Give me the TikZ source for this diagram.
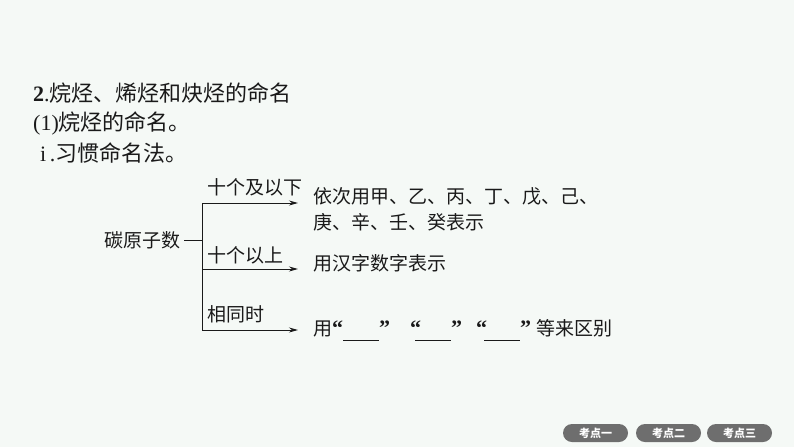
\documentclass[tikz,border=0pt]{standalone}
\usepackage{fontspec}
\setmainfont{Liberation Serif}
\newfontfamily\cjk{Noto Sans CJK SC}
\usetikzlibrary{arrows.meta,positioning}
\definecolor{pagebg}{HTML}{F5F9F6}
\definecolor{tabgray}{HTML}{6E6E6E}
\definecolor{ink}{HTML}{1A1A1A}
\newcommand\blankline{\rule[-5pt]{36pt}{0.9pt}}
\newcommand\openq{{\rmfamily\bfseries\fontsize{22}{26}\selectfont “}}
\newcommand\closeq{{\rmfamily\bfseries\fontsize{22}{26}\selectfont ”}}
\begin{document}
\begin{tikzpicture}[x=1pt,y=-1pt,
    head/.style={inner sep=0pt, anchor=west, text=ink, font=\cjk\fontsize{22}{26}\selectfont},
    txt/.style={inner sep=0pt, anchor=west, text=ink, align=left, font=\cjk\fontsize{19}{26}\selectfont},
    branch/.style={draw=ink, line width=1pt},
    arrow/.style={draw=ink, line width=1pt, -{Stealth[length=9pt,width=5pt]}},
    tab/.style={fill=tabgray, rounded corners=9pt, minimum width=65pt, minimum height=18pt,
      inner sep=0pt, text=white, font=\cjk\bfseries\fontsize{11}{13}\selectfont}
  ]
  % Background
  \fill[pagebg] (0,0) rectangle (794,447);

  % Headings
  \node[head] (title) at (33,93) {{\rmfamily\bfseries 2}{\rmfamily .}烷烃、烯烃和炔烃的命名};
  \node[head] (alkane) at (33,123) {{\rmfamily (1)}烷烃的命名。};
  \node[head] (habit) at (40,153) {{\rmfamily i\,.}习惯命名法。};

  % Branch points
  \node[txt] (carbon) at (104,240) {碳原子数};
  \coordinate (fork) at (202,240);
  \coordinate (few) at (202,203);
  \coordinate (many) at (202,269);
  \coordinate (same) at (202,330);
  \coordinate (fewend) at (298,203);
  \coordinate (manyend) at (298,269);
  \coordinate (sameend) at (298,330);

  % Lines
  \draw[branch, shorten <=4pt] (carbon) -- (fork);
  \draw[branch] (few) -- (same);
  \draw[arrow] (few) -- (fewend);
  \draw[arrow] (many) -- (manyend);
  \draw[arrow] (same) -- (sameend);

  % Conditions
  \node[txt] (fewlbl) at (207,187) {十个及以下};
  \node[txt] (manylbl) at (207,255) {十个以上};
  \node[txt] (samelbl) at (207,314) {相同时};

  % Rules
  \node[txt] (stems) at (313,209) {依次用甲、乙、丙、丁、戊、己、\\庚、辛、壬、癸表示};
  \node[txt] (numerals) at (313,263) {用汉字数字表示};
  \node[txt] (prefix) at (313,330) {用\openq\blankline\closeq\hspace{20pt}\openq\kern-6pt\blankline\closeq\hspace{14pt}\openq\kern-3pt\blankline\closeq\hspace{5pt}等来区别};

  % Tabs
  \node[tab] (tab1) at (595.5,433) {考点一};
  \node[tab] (tab2) at (668.5,433) {考点二};
  \node[tab] (tab3) at (739.5,433) {考点三};
\end{tikzpicture}
\end{document}
